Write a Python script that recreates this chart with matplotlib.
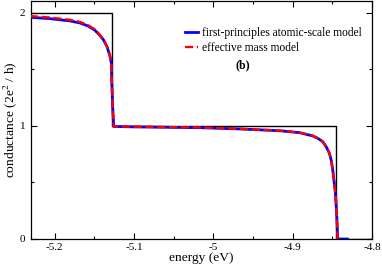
import matplotlib
matplotlib.use("Agg")
import matplotlib.pyplot as plt
from matplotlib.ticker import MultipleLocator

plt.rcParams["font.family"] = ["Liberation Serif", "DejaVu Serif"]
plt.rcParams["mathtext.fontset"] = "stix"
plt.rcParams["axes.unicode_minus"] = False

# ideal step conductance (black)
step_energy = [-5.23, -5.128, -5.128, -4.8452, -4.8452, -4.8]
step_cond = [2, 2, 1, 1, 0, 0]

# first-principles atomic-scale model (blue)
fp_energy = [-5.2315, -5.2063, -5.1811, -5.1685, -5.1584, -5.1496, -5.1433,
             -5.1383, -5.1341, -5.1307, -5.1286, -5.1282, -5.1270, -5.1257,
             -5.10, -5.0174, -4.967, -4.9418, -4.9166, -4.8914, -4.8747,
             -4.8684, -4.8621, -4.8578, -4.8537, -4.8515, -4.8495, -4.8461,
             -4.8444, -4.8432, -4.8310]
fp_cond = [1.962, 1.950, 1.930, 1.912, 1.886, 1.848, 1.803,
           1.759, 1.700, 1.626, 1.553, 1.40, 1.168, 0.996,
           0.992, 0.985, 0.974, 0.966, 0.958, 0.941, 0.912,
           0.891, 0.861, 0.817, 0.758, 0.699, 0.611, 0.404,
           0.198, 0.0, 0.0]

# effective mass model (red, dashed)
em_energy = [-5.2315, -5.2063, -5.1811, -5.1685, -5.1584, -5.1496, -5.1433,
             -5.1383, -5.1341, -5.1307, -5.1286, -5.1282, -5.1270, -5.1257,
             -5.10, -5.0174, -4.967, -4.9418, -4.9166, -4.8914, -4.8747,
             -4.8684, -4.8621, -4.8578, -4.8537, -4.8515, -4.8495, -4.8461,
             -4.8444, -4.8432, -4.8410]
em_cond = [1.973, 1.960, 1.940, 1.921, 1.894, 1.855, 1.808,
           1.762, 1.702, 1.628, 1.554, 1.40, 1.168, 0.996,
           0.994, 0.987, 0.975, 0.967, 0.959, 0.942, 0.913,
           0.892, 0.862, 0.818, 0.759, 0.700, 0.611, 0.404,
           0.198, 0.0, 0.0]

fig = plt.figure(figsize=(3.82, 2.68), dpi=100)
ax = fig.add_axes([31 / 382, 29 / 268, 341 / 382, 238 / 268])

ax.plot(step_energy, step_cond, color="black", lw=1.0, zorder=2)
ax.plot(fp_energy, fp_cond, color="#0000ff", lw=2.0, zorder=3,
        label="first-principles atomic-scale model")
ax.plot(em_energy, em_cond, color="#ff0000", lw=1.7, dashes=(3.5, 1.5),
        zorder=4, label="effective mass model")

ax.set_xlim(-5.23, -4.8)
ax.set_ylim(0, 2.106)
ax.xaxis.set_minor_locator(MultipleLocator(0.05))
ax.yaxis.set_minor_locator(MultipleLocator(0.5))
ax.set_xticks([-5.2, -5.1, -5.0, -4.9, -4.8])
ax.set_xticklabels(["-5.2", "-5.1", "-5", "-4.9", "-4.8"])
ax.set_yticks([0, 1, 2])
ax.set_yticklabels(["0", "1", "2"])

ax.tick_params(which="both", direction="in", top=True, right=True,
               labelsize=8, width=0.8)
ax.tick_params(axis="x", which="major", length=4.5, pad=3)
ax.tick_params(axis="y", which="major", length=4.5, pad=4)
ax.tick_params(which="minor", length=2.5)
for spine in ax.spines.values():
    spine.set_linewidth(0.9)

ax.set_xlabel("energy (eV)", fontsize=9.7, labelpad=0)
ax.set_ylabel(r"conductance (2e$^2$ / h)", fontsize=9.7)
ax.yaxis.set_label_coords(-0.036, 0.5)

ax.legend(loc="center left", bbox_to_anchor=(0.4516, 0.834), frameon=False,
          fontsize=8.3, handlelength=1.15, handletextpad=0.35,
          labelspacing=0.3, borderpad=0, borderaxespad=0)
ax.text(0.622, 0.731, "(b)", transform=ax.transAxes, fontsize=8.5,
        fontweight="bold", ha="center", va="center")

fig.savefig("out.png", dpi=100)
